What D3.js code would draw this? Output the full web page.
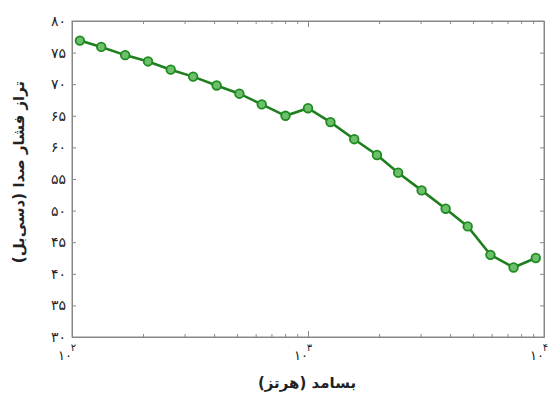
<!DOCTYPE html>
<html>
<head>
<meta charset="utf-8">
<script src="https://cdn.jsdelivr.net/npm/d3@7"></script>
<style>
  body { margin: 0; background: #fff; }
  text { font-family: "DejaVu Sans", sans-serif; fill: #222; }
  .domain { stroke: #888; }
  .tick line { stroke: #888; }
</style>
</head>
<body>
<div class="chart"></div>
<script>
const WIDTH = 550;
const HEIGHT = 394;

const MARGIN = {top: 21, right: 6, bottom: 57, left: 72};

const INNER_WIDTH = WIDTH - MARGIN.left - MARGIN.right;
const INNER_HEIGHT = HEIGHT - MARGIN.top - MARGIN.bottom;

// band centres (Hz) and levels (dB)
var frequencies = [108, 133, 168, 210, 262, 326, 410, 512, 637, 803, 1000,
                   1245, 1570, 1960, 2410, 3030, 3830, 4750, 5930, 7430, 9230];
var levels = [76.9, 75.9, 74.6, 73.6, 72.3, 71.2, 69.8, 68.5, 66.8, 65.0, 66.2,
              64.0, 61.3, 58.8, 56.0, 53.2, 50.3, 47.5, 43.0, 41.0, 42.5];

var yTicks = [30, 35, 40, 45, 50, 55, 60, 65, 70, 75, 80];
var xExponents = [2, 3, 4];
var xMinorTicks = [200, 300, 400, 500, 600, 700, 800, 900,
                   2000, 3000, 4000, 5000, 6000, 7000, 8000, 9000];

var xTitle = "بسامد (هرتز)";
var yTitle = "تراز فشار صدا (دسی‌بل)";

var translate = function (x, y) {
    return "translate(" + x + "," + y + ")";
};

var toPersian = function (n) {
    return String(n).replace(/[0-9]/g, function (d) {
        return "۰۱۲۳۴۵۶۷۸۹"[+d];
    });
};

var generateChart = function () {
    var svg = d3.select('.chart').append('svg')
        .attr('width', WIDTH)
        .attr('height', HEIGHT);

    var xScale = d3.scaleLog()
        .domain([100, 10000])
        .range([0, INNER_WIDTH]);

    var yScale = d3.scaleLinear()
        .domain([30, 80])
        .range([INNER_HEIGHT, 0]);

    var g = svg.append('g')
        .attr('transform', translate(MARGIN.left, MARGIN.top));

    // box
    g.append('rect')
        .attr('width', INNER_WIDTH)
        .attr('height', INNER_HEIGHT)
        .attr('fill', 'none')
        .attr('stroke', '#888');

    // y ticks, left with labels, right plain
    g.append('g')
        .call(d3.axisLeft(yScale).tickValues(yTicks)
            .tickSizeInner(-4).tickSizeOuter(0).tickPadding(6)
            .tickFormat(toPersian))
        .call(function (a) {
            a.selectAll('text').style('font-size', '14px');
        });

    g.append('g')
        .attr('transform', translate(INNER_WIDTH, 0))
        .call(d3.axisRight(yScale).tickValues(yTicks)
            .tickSizeInner(-4).tickSizeOuter(0).tickFormat(''));

    // x ticks, bottom and top
    var majors = xExponents.map(function (e) { return Math.pow(10, e); });
    [[d3.axisBottom, INNER_HEIGHT], [d3.axisTop, 0]].forEach(function (pair) {
        g.append('g')
            .attr('transform', translate(0, pair[1]))
            .call(pair[0](xScale).tickValues(xMinorTicks)
                .tickSizeInner(-3).tickSizeOuter(0).tickFormat(''));
        g.append('g')
            .attr('transform', translate(0, pair[1]))
            .call(pair[0](xScale).tickValues(majors)
                .tickSizeInner(-6).tickSizeOuter(0).tickFormat(''));
    });

    // power-of-ten labels
    var lab = g.append('g').selectAll('g').data(xExponents)
        .enter().append('g')
        .attr('transform', function (e) {
            return translate(xScale(Math.pow(10, e)), INNER_HEIGHT);
        });
    lab.append('text')
        .attr('x', 0)
        .attr('y', 23)
        .attr('text-anchor', 'end')
        .style('font-size', '13px')
        .text(toPersian(10));
    lab.append('text')
        .attr('x', 1.5)
        .attr('y', 14)
        .attr('text-anchor', 'middle')
        .style('font-size', '10px')
        .text(function (e) { return toPersian(e); });

    // titles
    svg.append('text')
        .attr('x', 307)
        .attr('y', 388)
        .attr('text-anchor', 'middle')
        .style('font-size', '15px')
        .style('font-weight', 'bold')
        .text(xTitle);

    svg.append('text')
        .attr('transform', translate(24, 172) + ' rotate(-90)')
        .attr('text-anchor', 'middle')
        .style('font-size', '15px')
        .style('font-weight', 'bold')
        .text(yTitle);

    // series
    var data = frequencies.map(function (f, i) { return {x: f, y: levels[i]}; });

    var line = d3.line()
        .x(function (q) { return xScale(q.x); })
        .y(function (q) { return yScale(q.y); });

    g.append('path')
        .attr('d', line(data))
        .attr('fill', 'none')
        .attr('stroke', '#1f7f1f')
        .attr('stroke-width', 2.6);

    g.append('g').selectAll('circle').data(data)
        .enter().append('circle')
        .attr('cx', function (q) { return xScale(q.x); })
        .attr('cy', function (q) { return yScale(q.y); })
        .attr('r', 4.3)
        .attr('fill', '#6cc06c')
        .attr('stroke', '#1f8a1f')
        .attr('stroke-width', 1.8);
};

generateChart();
</script>
</body>
</html>
